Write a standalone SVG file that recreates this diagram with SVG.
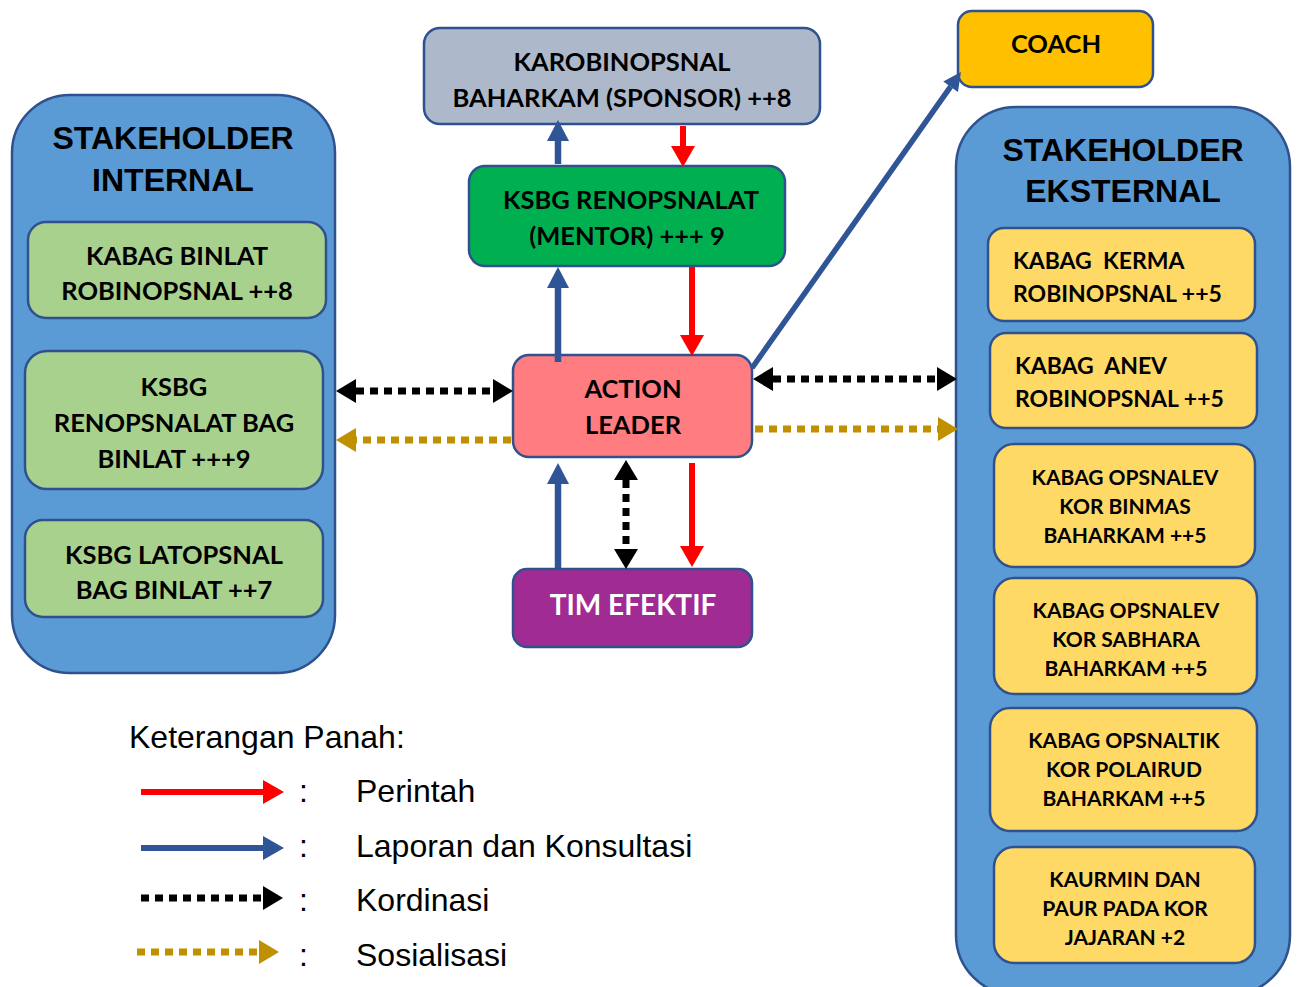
<svg xmlns="http://www.w3.org/2000/svg" width="1298" height="987" viewBox="0 0 1298 987">
  <style>
    .box { stroke: #2F528F; stroke-width: 2.5; }
    .group { fill: #5B9BD5; stroke: #2F528F; stroke-width: 2.5; }
    .t29 { font-family: Lato, "Open Sans", sans-serif; font-weight: 700; font-size: 25.5px; fill: #000; text-anchor: middle; }
    .t26 { font-family: Lato, "Open Sans", sans-serif; font-weight: 700; font-size: 23px; fill: #000; white-space: pre; }
    .t24 { font-family: Lato, "Open Sans", sans-serif; font-weight: 700; font-size: 21px; fill: #000; text-anchor: middle; }
    .head { font-family: "Liberation Sans", Arial, sans-serif; font-weight: 700; font-size: 32px; fill: #000; text-anchor: middle; }
    .legend { font-family: "Liberation Sans", Arial, sans-serif; font-size: 32px; fill: #000; }
    .blue { stroke: #2F5597; stroke-width: 6.5; fill: none; }
    .red { stroke: #FF0000; stroke-width: 6; fill: none; }
    .kdot { stroke: #000; stroke-width: 7; stroke-dasharray: 8 6; fill: none; }
    .gdot { stroke: #BF9000; stroke-width: 7; stroke-dasharray: 8 6; fill: none; }
  </style>
  <defs>
    <marker id="hBlue" markerUnits="userSpaceOnUse" markerWidth="22" markerHeight="22" refX="0" refY="11" orient="auto-start-reverse" overflow="visible">
      <path d="M0,0 L21,11 L0,22 z" fill="#2F5597"/>
    </marker>
    <marker id="hBlueL" markerUnits="userSpaceOnUse" markerWidth="22" markerHeight="24" refX="0" refY="12" orient="auto" overflow="visible">
      <path d="M0,0 L21,12 L0,24 z" fill="#2F5597"/>
    </marker>
    <marker id="hBlueS" markerUnits="userSpaceOnUse" markerWidth="18" markerHeight="18" refX="0" refY="9" orient="auto" overflow="visible">
      <path d="M0,0 L18,9 L0,18 z" fill="#2F5597"/>
    </marker>
    <marker id="hRed" markerUnits="userSpaceOnUse" markerWidth="22" markerHeight="24" refX="0" refY="12" orient="auto-start-reverse" overflow="visible">
      <path d="M0,0 L21,12 L0,24 z" fill="#FF0000"/>
    </marker>
    <marker id="hBlack" markerUnits="userSpaceOnUse" markerWidth="20" markerHeight="24" refX="0" refY="12" orient="auto-start-reverse" overflow="visible">
      <path d="M0,0 L20,12 L0,24 z" fill="#000"/>
    </marker>
    <marker id="hGold" markerUnits="userSpaceOnUse" markerWidth="20" markerHeight="24" refX="0" refY="12" orient="auto-start-reverse" overflow="visible">
      <path d="M0,0 L20,12 L0,24 z" fill="#BF9000"/>
    </marker>
  </defs>

  <rect width="1298" height="987" fill="#FFFFFF"/>

  <!-- internal stakeholders -->
  <g id="stakeholder-internal">
    <rect class="group" x="12" y="95" width="323" height="578" rx="58"/>
    <text class="head" x="173" y="149">STAKEHOLDER</text>
    <text class="head" x="173" y="191">INTERNAL</text>
  </g>
  <g id="kabag-binlat">
    <rect class="box" x="28" y="222" width="298" height="96" rx="18" fill="#A9D18E"/>
    <text class="t29" x="177" y="265">KABAG BINLAT</text>
    <text class="t29" x="177" y="300">ROBINOPSNAL ++8</text>
  </g>
  <g id="ksbg-renopsnalat-bag">
    <rect class="box" x="25" y="351" width="298" height="138" rx="22" fill="#A9D18E"/>
    <text class="t29" x="174" y="396">KSBG</text>
    <text class="t29" x="174" y="432">RENOPSNALAT BAG</text>
    <text class="t29" x="174" y="468">BINLAT +++9</text>
  </g>
  <g id="ksbg-latopsnal">
    <rect class="box" x="25" y="520" width="298" height="97" rx="18" fill="#A9D18E"/>
    <text class="t29" x="174" y="564">KSBG LATOPSNAL</text>
    <text class="t29" x="174" y="599">BAG BINLAT ++7</text>
  </g>

  <!-- central chain -->
  <g id="sponsor">
    <rect class="box" x="424" y="28" width="396" height="96" rx="16" fill="#ADB9CA"/>
    <text class="t29" x="622" y="71">KAROBINOPSNAL</text>
    <text class="t29" x="622" y="107">BAHARKAM (SPONSOR) ++8</text>
  </g>
  <g id="mentor">
    <rect class="box" x="469" y="166" width="316" height="100" rx="16" fill="#00B050"/>
    <text class="t29" x="631" y="209">KSBG RENOPSNALAT</text>
    <text class="t29" x="627" y="245">(MENTOR) +++ 9</text>
  </g>
  <g id="action-leader">
    <rect class="box" x="513" y="355" width="239" height="102" rx="16" fill="#FF7C80"/>
    <text class="t29" x="633" y="398">ACTION</text>
    <text class="t29" x="633" y="434">LEADER</text>
  </g>
  <g id="tim-efektif">
    <rect class="box" x="513" y="569" width="239" height="78" rx="14" fill="#A02B93"/>
    <text class="t29" x="633" y="615" style="fill:#FFFFFF;font-size:28px">TIM EFEKTIF</text>
  </g>
  <g id="coach">
    <rect class="box" x="958" y="11" width="195" height="76" rx="14" fill="#FFC000"/>
    <text class="t29" x="1056" y="53">COACH</text>
  </g>

  <!-- external stakeholders -->
  <g id="stakeholder-eksternal">
    <rect class="group" x="956" y="107" width="334" height="888" rx="60"/>
    <text class="head" x="1123" y="161">STAKEHOLDER</text>
    <text class="head" x="1123" y="202">EKSTERNAL</text>
  </g>
  <g id="kabag-kerma">
    <rect class="box" x="988" y="228" width="267" height="93" rx="16" fill="#FFD966"/>
    <text class="t26" x="1013" y="269">KABAG  KERMA</text>
    <text class="t26" x="1013" y="302">ROBINOPSNAL ++5</text>
  </g>
  <g id="kabag-anev">
    <rect class="box" x="990" y="333" width="267" height="95" rx="16" fill="#FFD966"/>
    <text class="t26" x="1015" y="374">KABAG  ANEV</text>
    <text class="t26" x="1015" y="407">ROBINOPSNAL ++5</text>
  </g>
  <g id="kabag-binmas">
    <rect class="box" x="994" y="444" width="261" height="123" rx="20" fill="#FFD966"/>
    <text class="t24" x="1125" y="485">KABAG OPSNALEV</text>
    <text class="t24" x="1125" y="514">KOR BINMAS</text>
    <text class="t24" x="1125" y="543">BAHARKAM ++5</text>
  </g>
  <g id="kabag-sabhara">
    <rect class="box" x="994" y="578" width="263" height="116" rx="20" fill="#FFD966"/>
    <text class="t24" x="1126" y="618">KABAG OPSNALEV</text>
    <text class="t24" x="1126" y="647">KOR SABHARA</text>
    <text class="t24" x="1126" y="676">BAHARKAM ++5</text>
  </g>
  <g id="kabag-polairud">
    <rect class="box" x="990" y="708" width="267" height="123" rx="20" fill="#FFD966"/>
    <text class="t24" x="1124" y="748">KABAG OPSNALTIK</text>
    <text class="t24" x="1124" y="777">KOR POLAIRUD</text>
    <text class="t24" x="1124" y="806">BAHARKAM ++5</text>
  </g>
  <g id="kaurmin-paur">
    <rect class="box" x="994" y="847" width="261" height="116" rx="20" fill="#FFD966"/>
    <text class="t24" x="1125" y="887">KAURMIN DAN</text>
    <text class="t24" x="1125" y="916">PAUR PADA KOR</text>
    <text class="t24" x="1125" y="945">JAJARAN +2</text>
  </g>

  <!-- connectors -->
  <g id="connectors">
    <line class="blue" x1="558" y1="164" x2="558" y2="141" marker-end="url(#hBlue)"/>
    <line class="red" x1="683" y1="126" x2="683" y2="146" marker-end="url(#hRed)"/>
    <line class="blue" x1="558" y1="362" x2="558" y2="288" marker-end="url(#hBlue)"/>
    <line class="red" x1="692" y1="267" x2="692" y2="335" marker-end="url(#hRed)"/>
    <line class="blue" x1="752" y1="368" x2="950.6" y2="86.7" style="stroke-width:5.5" marker-end="url(#hBlueS)"/>
    <line class="kdot" x1="356" y1="391" x2="493" y2="391" marker-start="url(#hBlack)" marker-end="url(#hBlack)"/>
    <line class="gdot" x1="511" y1="440" x2="356" y2="440" marker-end="url(#hGold)"/>
    <line class="kdot" x1="773" y1="379" x2="937" y2="379" marker-start="url(#hBlack)" marker-end="url(#hBlack)"/>
    <line class="gdot" x1="755" y1="429" x2="938" y2="429" marker-end="url(#hGold)"/>
    <line class="blue" x1="558" y1="568" x2="558" y2="484" marker-end="url(#hBlue)"/>
    <line class="kdot" x1="626" y1="480" x2="626" y2="549" marker-start="url(#hBlack)" marker-end="url(#hBlack)"/>
    <line class="red" x1="692" y1="463" x2="692" y2="546" marker-end="url(#hRed)"/>
  </g>

  <!-- arrow legend -->
  <g id="legend">
    <text class="legend" x="129" y="748">Keterangan Panah:</text>
    <line class="red" x1="141" y1="792" x2="263" y2="792" marker-end="url(#hRed)"/>
    <line class="blue" x1="141" y1="848" x2="263" y2="848" style="stroke-width:6" marker-end="url(#hBlueL)"/>
    <line class="kdot" x1="141" y1="898" x2="263" y2="898" marker-end="url(#hBlack)"/>
    <line class="gdot" x1="137" y1="952" x2="259" y2="952" marker-end="url(#hGold)"/>
    <text class="legend" x="299" y="802">:</text>
    <text class="legend" x="299" y="857">:</text>
    <text class="legend" x="299" y="911">:</text>
    <text class="legend" x="299" y="966">:</text>
    <text class="legend" x="356" y="802">Perintah</text>
    <text class="legend" x="356" y="857">Laporan dan Konsultasi</text>
    <text class="legend" x="356" y="911">Kordinasi</text>
    <text class="legend" x="356" y="966">Sosialisasi</text>
  </g>
</svg>
